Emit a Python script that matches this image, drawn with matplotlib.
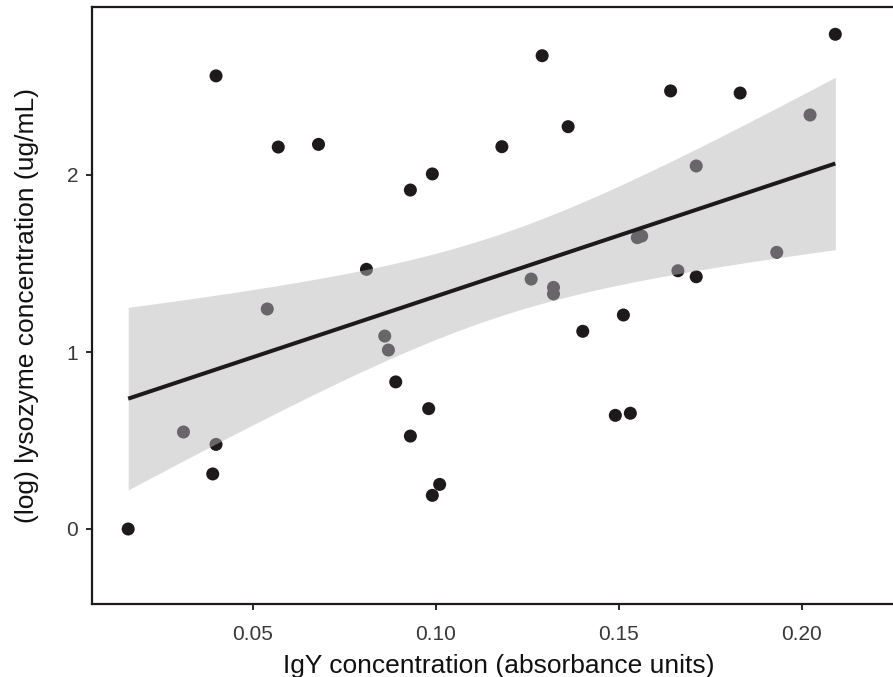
import numpy as np
import matplotlib
matplotlib.use("Agg")
import matplotlib.pyplot as plt

plt.rcParams['font.family'] = ['Liberation Sans', 'DejaVu Sans']

igy = [0.0159, 0.0310, 0.0390, 0.0399, 0.0399, 0.0539, 0.0569, 0.0679, 0.0810,
       0.0860, 0.0870, 0.0890, 0.0930, 0.0930, 0.0980, 0.0990, 0.0990, 0.1010,
       0.1180, 0.1260, 0.1290, 0.1321, 0.1321, 0.1361, 0.1401, 0.1490, 0.1512,
       0.1531, 0.1550, 0.1562, 0.1641, 0.1661, 0.1711, 0.1711, 0.1831, 0.1931,
       0.2022, 0.2091]
lyso = [0.000, 0.548, 0.311, 0.478, 2.560, 1.243, 2.158, 2.173, 1.467,
        1.090, 1.011, 0.831, 1.915, 0.525, 0.680, 2.006, 0.190, 0.252,
        2.160, 1.412, 2.674, 1.365, 1.328, 2.273, 1.117, 0.642, 1.209,
        0.654, 1.646, 1.655, 2.475, 1.459, 2.051, 1.425, 2.463, 1.563,
        2.339, 2.795]
x_ticks = [0.05, 0.10, 0.15, 0.20]
x_ticklabels = ["0.05", "0.10", "0.15", "0.20"]
y_ticks = [0, 1, 2]
y_ticklabels = ["0", "1", "2"]
T_QUANTILE = 2.0281  # t(0.975, df=36)

x = np.array(igy)
y = np.array(lyso)
n = len(x)
slope, intercept = np.polyfit(x, y, 1)
resid = y - (slope * x + intercept)
s = np.sqrt(np.sum(resid ** 2) / (n - 2))
xs = np.linspace(x.min(), x.max(), 120)
yhat = slope * xs + intercept
se = s * np.sqrt(1.0 / n + (xs - x.mean()) ** 2 / np.sum((x - x.mean()) ** 2))
lo = yhat - T_QUANTILE * se
hi = yhat + T_QUANTILE * se

W, H = 893, 677
fig = plt.figure(figsize=(W / 100, H / 100), dpi=100)
ax = fig.add_axes([92 / W, (H - 604) / H, (905 - 92) / W, (604 - 7) / H])

ink = '#1e1a1b'
ax.scatter(x, y, s=88, color=ink, edgecolors='none', zorder=2)
ax.fill_between(xs, lo, hi, color=(183 / 255, 183 / 255, 186 / 255), alpha=0.485,
                linewidth=0, zorder=3)
ax.plot(xs, yhat, color=ink, lw=2.9, zorder=4, solid_capstyle='butt')

ax.set_xlim((92 - 70) / 3660, (905 - 70) / 3660)
ax.set_ylim(-(604 - 529) / 177, (529 - 7) / 177)
ax.set_xticks(x_ticks)
ax.set_xticklabels(x_ticklabels)
ax.set_yticks(y_ticks)
ax.set_yticklabels(y_ticklabels)

for side in ['left', 'bottom', 'top']:
    ax.spines[side].set_linewidth(1.6)
    ax.spines[side].set_color(ink)
ax.spines['right'].set_visible(False)

ax.tick_params(axis='both', length=4, width=1.3, color=ink, labelsize=15,
               labelcolor='#383838')
ax.tick_params(axis='x', pad=11)
ax.tick_params(axis='y', pad=6)
ax.set_xlabel("IgY concentration (absorbance units)", fontsize=19, color='#111111',
              labelpad=7)
ax.set_ylabel("(log) lysozyme concentration (ug/mL)", fontsize=19, color='#111111',
              labelpad=20)

fig.savefig("out.png", dpi=100)
